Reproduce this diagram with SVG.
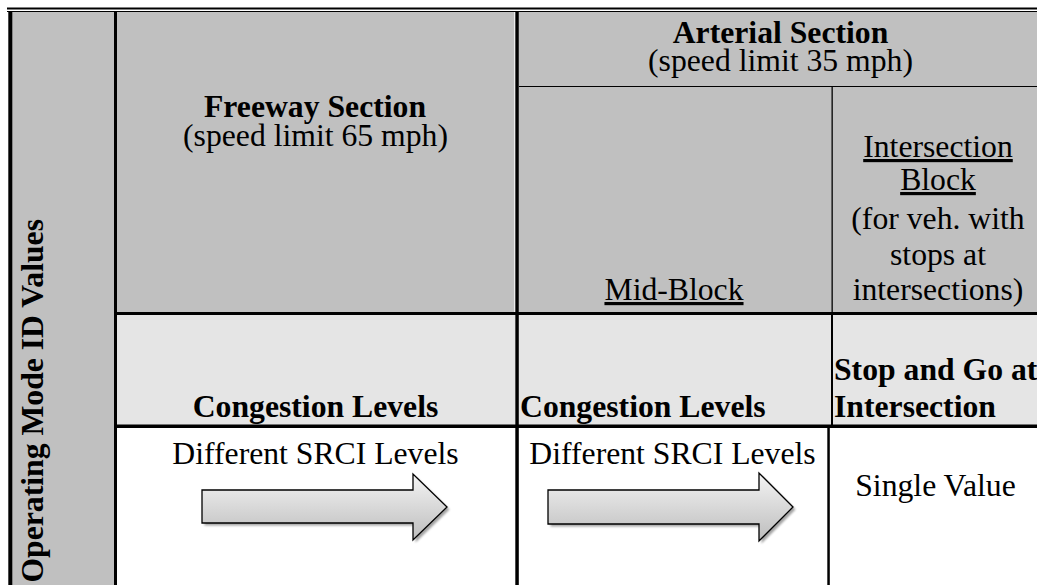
<svg xmlns="http://www.w3.org/2000/svg" width="1037" height="585" viewBox="0 0 1037 585">
  <style>
    .t { font-family: "Liberation Serif", "Times New Roman", serif; font-size: 31.7px; fill: #000; }
    .b { font-weight: bold; }
    .c { text-anchor: middle; }
    .u { text-decoration: underline; }
    .hdr { fill: #c0c0c0; }
    .sub { fill: #e5e5e5; }
    .ln { fill: #000; }
    .arrow { fill: url(#ag); stroke: #000; stroke-width: 1.3; stroke-linejoin: miter; }
    .shadow { fill: #7a7a7a; opacity: 0.7; }
  </style>
  <defs>
    <linearGradient id="ag" x1="0" y1="0" x2="0" y2="1">
      <stop offset="0" stop-color="#f4f4f4"/>
      <stop offset="1" stop-color="#bdbdbd"/>
    </linearGradient>
    <filter id="blur" x="-10%" y="-10%" width="120%" height="130%">
      <feGaussianBlur stdDeviation="1.2"/>
    </filter>
  </defs>
  <rect x="0" y="0" width="1037" height="585" fill="#fff"/>

  <g id="cell-left">
    <rect class="hdr" x="12" y="12" width="102" height="573"/>
    <text class="t b" text-anchor="end" transform="translate(43.3,219) rotate(-90)">Operating Mode ID Values</text>
  </g>
  <g id="cell-freeway-header">
    <rect class="hdr" x="117" y="12" width="398" height="300"/>
    <text class="t b c" x="315" y="117">Freeway Section</text>
    <text class="t c" x="315.5" y="146">(speed limit 65 mph)</text>
  </g>
  <g id="cell-arterial-header">
    <rect class="hdr" x="519" y="12" width="518" height="75"/>
    <text class="t b c" x="780.5" y="42.5">Arterial Section</text>
    <text class="t c" x="780.5" y="71">(speed limit 35 mph)</text>
  </g>
  <g id="cell-midblock-header">
    <rect class="hdr" x="519" y="87" width="313" height="225"/>
    <text class="t c u" x="674" y="300">Mid-Block</text>
  </g>
  <g id="cell-intersection-header">
    <rect class="hdr" x="832" y="87" width="205" height="225"/>
    <text class="t c u" x="938" y="157">Intersection</text>
    <text class="t c u" x="938" y="190">Block</text>
    <text class="t c" x="938" y="229">(for veh. with</text>
    <text class="t c" x="938" y="265">stops at</text>
    <text class="t c" x="938" y="300">intersections)</text>
  </g>
  <g id="cell-freeway-congestion">
    <rect class="sub" x="117" y="315" width="398" height="110"/>
    <text class="t b c" x="315.5" y="417">Congestion Levels</text>
  </g>
  <g id="cell-midblock-congestion">
    <rect class="sub" x="519" y="315" width="313" height="110"/>
    <text class="t b" x="520" y="417">Congestion Levels</text>
  </g>
  <g id="cell-stop-go">
    <rect class="sub" x="832" y="315" width="205" height="110"/>
    <text class="t b" x="834" y="380">Stop and Go at</text>
    <text class="t b" x="834" y="417">Intersection</text>
  </g>
  <g id="cell-freeway-srci">
    <text class="t c" x="315.5" y="464">Different SRCI Levels</text>
    <path class="shadow" filter="url(#blur)" transform="translate(2.5,2.5)" d="M202,490 H413 V474 L447,507 L413,540 V523 H202 Z"/>
    <path class="arrow" d="M202,490 H413 V474 L447,507 L413,540 V523 H202 Z"/>
  </g>
  <g id="cell-midblock-srci">
    <text class="t c" x="672.5" y="464">Different SRCI Levels</text>
    <path class="shadow" filter="url(#blur)" transform="translate(2.5,2.5)" d="M548,490 H759 V473 L793,507 L759,541 V524 H548 Z"/>
    <path class="arrow" d="M548,490 H759 V473 L793,507 L759,541 V524 H548 Z"/>
  </g>
  <g id="cell-single-value">
    <text class="t c" x="935.5" y="496">Single Value</text>
  </g>

  <g id="connectors">
    <!-- top double border -->
    <rect class="ln" x="7" y="7.5" width="1030" height="2"/>
    <rect class="ln" x="7" y="11" width="1030" height="1"/>
    <!-- left border -->
    <rect class="ln" x="8.3" y="11.5" width="4" height="573.5"/>
    <!-- label column divider -->
    <rect class="ln" x="114" y="12" width="3" height="573"/>
    <!-- freeway / arterial divider -->
    <rect fill="#fff" x="514.3" y="12" width="1" height="300"/>
    <rect class="ln" x="515.3" y="12" width="3.5" height="573"/>
    <!-- arterial subheader line -->
    <rect class="ln" x="519" y="86" width="518" height="1"/>
    <!-- midblock / intersection divider -->
    <rect class="ln" x="831.5" y="87" width="1.3" height="225"/>
    <rect class="ln" x="831" y="315" width="2" height="110"/>
    <rect class="ln" x="827.3" y="428" width="2.5" height="157"/>
    <!-- row dividers -->
    <rect class="ln" x="117" y="312" width="920" height="3"/>
    <rect class="ln" x="117" y="424.5" width="920" height="3.5"/>
  </g>
</svg>
